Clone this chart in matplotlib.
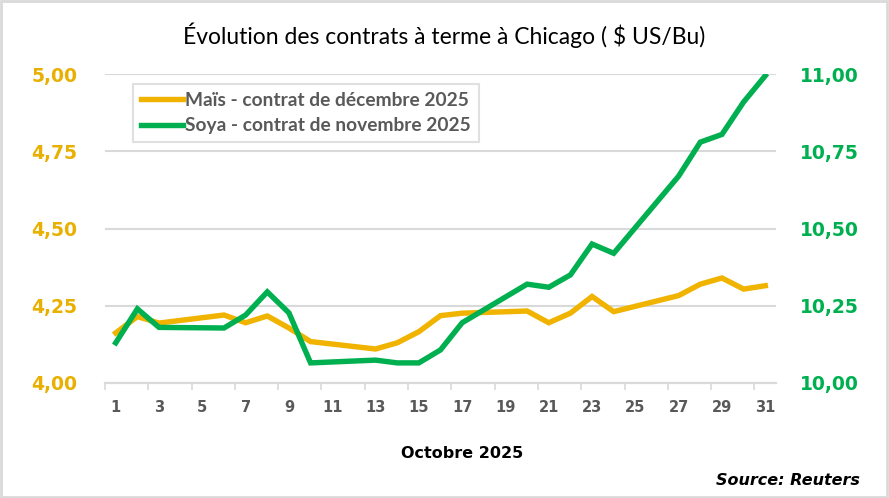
import numpy as np
import matplotlib.pyplot as plt
from matplotlib.ticker import FuncFormatter, FixedLocator

# Trading days of October 2025
days = [1, 2, 3, 6, 7, 8, 9, 10, 13, 14, 15, 16, 17, 20, 21, 22, 23, 24, 27, 28, 29, 30, 31]

# Corn, december 2025 contract ($ US/Bu)
mais = [4.162, 4.215, 4.194, 4.220, 4.195, 4.217, 4.178, 4.134, 4.110, 4.130, 4.166, 4.218,
        4.226, 4.233, 4.195, 4.226, 4.280, 4.231, 4.283, 4.320, 4.340, 4.304, 4.315]

# Soybean, november 2025 contract ($ US/Bu)
soya = [10.13, 10.24, 10.18, 10.178, 10.22, 10.295, 10.227, 10.065, 10.074, 10.065, 10.065, 10.107,
        10.195, 10.32, 10.31, 10.35, 10.45, 10.42, 10.67, 10.78, 10.805, 10.91, 10.995]

left_ticks = [4.00, 4.25, 4.50, 4.75, 5.00]
right_ticks = [10.00, 10.25, 10.50, 10.75, 11.00]
x_labels = list(range(1, 32, 2))

gold = '#F0B400'
gold_txt = '#E8B000'
green = '#00B050'
grid = '#D9D9D9'

fig = plt.figure(figsize=(8.89, 4.98), dpi=100)
ax = fig.add_axes([0.118, 0.231, 0.755, 0.620])
ax2 = ax.twinx()

ln1, = ax.plot(days, mais, color=gold, lw=3.9, solid_joinstyle='miter', zorder=3,
               label='Maïs - contrat de décembre 2025')
ln2, = ax2.plot(days, soya, color=green, lw=3.9, solid_joinstyle='miter', zorder=3,
                label='Soya - contrat de novembre 2025')

ax.set_xlim(0.5, 31.5)
ax.set_ylim(4.0, 5.0)
ax2.set_ylim(10.0, 11.0)

ax.set_yticks(left_ticks)
ax2.set_yticks(right_ticks)
fmt = FuncFormatter(lambda v, p: f'{v:.2f}'.replace('.', ','))
ax.yaxis.set_major_formatter(fmt)
ax2.yaxis.set_major_formatter(fmt)

ax.yaxis.grid(True, color=grid, lw=1.5)
ax.set_axisbelow(True)

ax.set_xticks(x_labels)
ax.xaxis.set_minor_locator(FixedLocator(np.arange(0.5, 31, 2)))
ax.tick_params(axis='x', which='major', length=0, pad=12, labelsize=10.5, labelcolor='#595959')
ax.tick_params(axis='x', which='minor', length=5, width=1.2, color=grid)
for t in ax.get_xticklabels():
    t.set_fontweight('bold')

ax.tick_params(axis='y', length=0, pad=20, labelsize=13.5, labelcolor=gold_txt)
ax2.tick_params(axis='y', length=0, pad=17, labelsize=13.5, labelcolor=green)
for t in ax.get_yticklabels() + ax2.get_yticklabels():
    t.set_fontweight('bold')

for a in (ax, ax2):
    for s in ('top', 'left', 'right'):
        a.spines[s].set_visible(False)
    a.spines['bottom'].set_color(grid)
    a.spines['bottom'].set_linewidth(1.5)

fig.text(0.5, 0.93, 'Évolution des contrats à terme à Chicago ( $ US/Bu)',
         ha='center', va='center', fontsize=16.5, family='Lato', color='black')
fig.text(0.52, 0.09, 'Octobre 2025', ha='center', va='center', fontsize=11.5,
         fontweight='bold', color='black')
fig.text(0.967, 0.036, 'Source: Reuters', ha='right', va='center', fontsize=11.5,
         fontweight='bold', style='italic', color='black')

leg = fig.legend(handles=[ln1, ln2], loc='upper left', bbox_to_anchor=(0.150, 0.831),
                 borderaxespad=0, frameon=True, fancybox=False, edgecolor=grid,
                 handlelength=2.2, handletextpad=0.1, borderpad=0.4, labelspacing=0.45,
                 prop={'family': 'Lato', 'weight': 'bold', 'size': 13.8})
leg.get_frame().set_linewidth(1.5)
for t in leg.get_texts():
    t.set_color('#595959')

fig.patches.append(plt.Rectangle((0.001, 0.002), 0.997, 0.996, transform=fig.transFigure,
                                 fill=False, edgecolor=grid, lw=2))

fig.savefig('out.png', dpi=100)
